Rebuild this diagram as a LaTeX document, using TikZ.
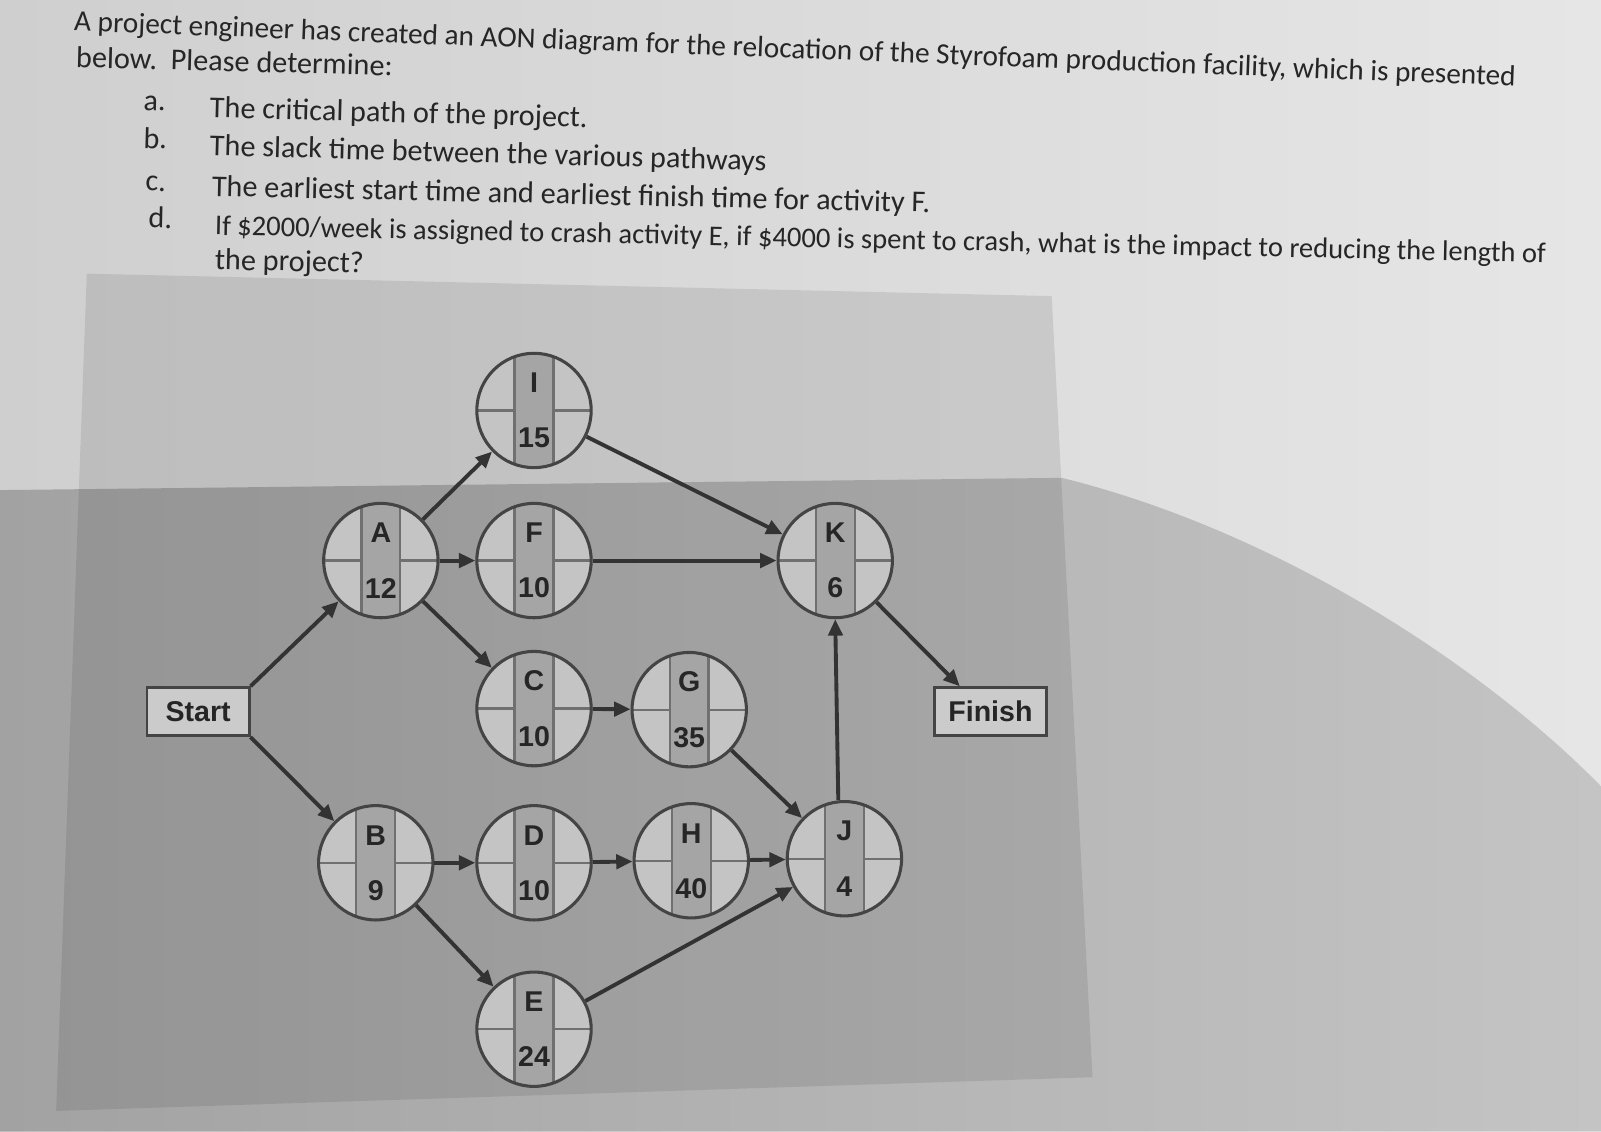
\documentclass[tikz,border=0pt]{standalone}
\usepackage{fontspec}
\setmainfont{Carlito}
\newfontfamily\diagfont{Liberation Sans}
\usetikzlibrary{arrows.meta}
\definecolor{lightL}{HTML}{CFCFCF}
\definecolor{lightR}{HTML}{E6E6E6}
\definecolor{shadowL}{HTML}{A2A2A2}
\definecolor{shadowR}{HTML}{C4C4C4}
\definecolor{qfill}{HTML}{C4C4C4}
\definecolor{bfill}{HTML}{A5A5A5}
\definecolor{gline}{HTML}{707070}
\definecolor{cline}{HTML}{444444}
\definecolor{ecol}{HTML}{333333}
\definecolor{txt}{HTML}{262626}
\definecolor{boxfill}{HTML}{CBCBCB}
\tikzset{
  aon/.style={circle, minimum size=56pt, inner sep=0pt, draw=cline, line width=1.5pt, fill=qfill,
    path picture={
      \fill[bfill] ([xshift=-9.5pt]path picture bounding box.north) rectangle ([xshift=9.5pt]path picture bounding box.south);
      \draw[gline, line width=1.1pt] ([xshift=-9.5pt]path picture bounding box.north) -- ([xshift=-9.5pt]path picture bounding box.south);
      \draw[gline, line width=1.1pt] ([xshift=9.5pt]path picture bounding box.north) -- ([xshift=9.5pt]path picture bounding box.south);
      \draw[gline, line width=1.1pt] (path picture bounding box.west) -- ([xshift=-9.5pt]path picture bounding box.center);
      \draw[gline, line width=1.1pt] ([xshift=9.5pt]path picture bounding box.center) -- (path picture bounding box.east);
    }},
  lab/.style={inner sep=0pt, text=txt, font=\diagfont\bfseries\fontsize{14}{14}\selectfont},
  endbox/.style={rectangle, draw=cline, line width=1.4pt, fill=boxfill, minimum height=23.5pt, inner sep=0pt,
    text=txt, font=\diagfont\bfseries\fontsize{14}{14}\selectfont},
  conn/.style={draw=ecol, line width=1.9pt, -{Triangle[length=8pt,width=7pt]}},
  qtext/.style={anchor=base west, inner sep=0pt, text=txt, font=\fontsize{14.8}{16}\selectfont}
}
\begin{document}
\begin{tikzpicture}[x=0.5pt,y=-0.5pt]
\useasboundingbox (0,0) rectangle (1568,1108);
% photo background
\shade[left color=lightL, right color=lightR] (0,0) rectangle (1568,1108);
\shade[left color=shadowL, right color=shadowR] (0,480) -- (1040,468) .. controls (1250,520) and (1450,650) .. (1568,770) -- (1568,1108) -- (0,1108) -- cycle;
\fill[black, opacity=0.09] (85,268) -- (1030,290) -- (1070,1055) -- (55,1088) -- cycle;

% question text
\node[qtext, rotate=-2.2, font=\fontsize{14.35}{16}\selectfont] (t1) at (72,30) {A project engineer has created an AON diagram for the relocation of the Styrofoam production facility, which is presented};
\node[qtext, rotate=-1.5] (t2) at (74,66) {below.\ \ Please determine:};
\node[qtext, rotate=-1.5] (la) at (140,108) {a.};
\node[qtext, rotate=-1.5] (ta) at (205,115) {The critical path of the project.};
\node[qtext, rotate=-1.6] (lb) at (140,145) {b.};
\node[qtext, rotate=-1.6] (tb) at (205,152) {The slack time between the various pathways};
\node[qtext, rotate=-1.3] (lc) at (142,187) {c.};
\node[qtext, rotate=-1.3] (tc) at (207,192) {The earliest start time and earliest finish time for activity F.};
\node[qtext, rotate=-1.2] (ld) at (145,223) {d.};
\node[qtext, rotate=-1.2, font=\fontsize{14}{16}\selectfont] (td) at (210,230) {If \$2000/week is assigned to crash activity E, if \$4000 is spent to crash, what is the impact to reducing the length of};
\node[qtext, rotate=-1.2] (te) at (210,264) {the project?};

% nodes
\node[endbox, minimum width=50pt] (start) at (194,697) {Start};
\node[endbox, minimum width=55pt] (finish) at (970,697) {Finish};

\node[aon] (I) at (523,402) {};
\node[aon] (A) at (373,549) {};
\node[aon] (F) at (523,549) {};
\node[aon] (K) at (818,549) {};
\node[aon] (C) at (523,694) {};
\node[aon] (G) at (675,695) {};
\node[aon] (B) at (368,845) {};
\node[aon] (D) at (523,845) {};
\node[aon] (H) at (677,843) {};
\node[aon] (J) at (827,841) {};
\node[aon] (E) at (523,1008) {};

\foreach \n/\l/\d in {I/I/15, A/A/12, F/F/10, K/K/6, C/C/10, G/G/35, B/B/9, D/D/10, H/H/40, J/J/4, E/E/24}{
  \node[lab] (\n-top) at ([yshift=13.5pt]\n.center) {\l};
  \node[lab] (\n-bot) at ([yshift=-13.5pt]\n.center) {\d};
}

% connectors
\draw[conn] (start.north east) -- (A);
\draw[conn] (start.south east) -- (B);
\draw[conn] (A) -- (I);
\draw[conn] (A) -- (F);
\draw[conn] (A) -- (C);
\draw[conn] (I) -- (K);
\draw[conn] (F) -- (K);
\draw[conn] (C) -- (G);
\draw[conn] (G) -- (J);
\draw[conn] (K) -- ([xshift=-15pt]finish.north);
\draw[conn] ([xshift=-3pt]J.north) -- (K.south);
\draw[conn] (B) -- (D);
\draw[conn] (D) -- (H);
\draw[conn] (H) -- (J);
\draw[conn] (B) -- (E);
\draw[conn] (E) -- (J);
\end{tikzpicture}
\end{document}
